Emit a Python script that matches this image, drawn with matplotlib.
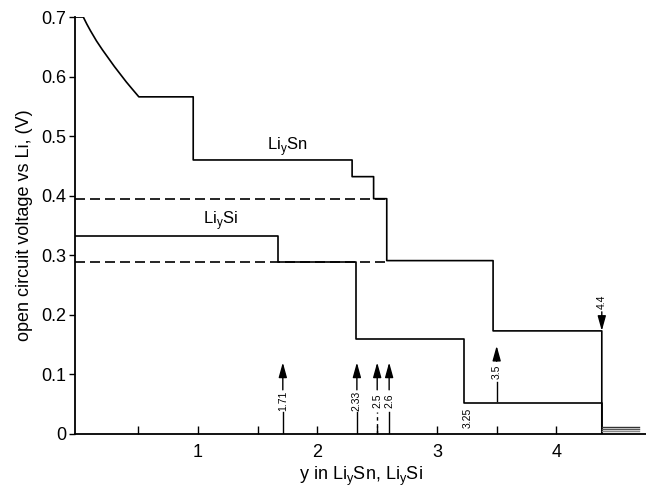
# open circuit voltage of Li-Sn and Li-Si vs lithium content

import numpy as np
import matplotlib.pyplot as plt

plt.rcParams['font.family'] = ['Liberation Sans', 'DejaVu Sans']

# Li_ySn: smooth start, then plateaus
sn_curve_x = [-0.03, 0.04, 0.07, 0.10, 0.15, 0.20, 0.25, 0.30, 0.35, 0.40, 0.45, 0.505]
sn_curve_v = [0.70, 0.700, 0.688, 0.677, 0.660, 0.645, 0.631, 0.617, 0.604, 0.591, 0.579, 0.566]
sn_edges = [0.505, 0.96, 2.29, 2.47, 2.58, 3.47, 4.38]
sn_levels = [0.566, 0.46, 0.432, 0.395, 0.291, 0.173]

# Li_ySi plateaus
si_edges = [-0.03, 1.67, 2.32, 3.23, 4.38]
si_levels = [0.333, 0.288, 0.16, 0.052]

# dashed reference levels
dash_levels = [0.395, 0.288]
dash_end = 2.58

# tail lines at bottom right
tail_levels = [0.011, 0.008, 0.0045]
tail_colors = ['#333333', '#555555', '#888888']
tail_x = [4.38, 4.69]

# composition markers (arrows from the axis)
up_x = [1.71, 2.33, 2.5, 2.6]
up_labels = ['1.71', '2.33', '2.5', '2.6']


def steps(edges, levels, end=None):
    xs, ys = [], []
    for i, v in enumerate(levels):
        xs += [edges[i], edges[i + 1]]
        ys += [v, v]
    if end is not None:
        xs.append(edges[-1])
        ys.append(end)
    return xs, ys


fig = plt.figure(figsize=(6.46, 4.87), dpi=100)
ax = fig.add_axes([0.116, 0.109, 0.884, 0.856])

lw = 1.2
for v in dash_levels:
    ax.plot([-0.03, dash_end], [v, v], color='black', lw=lw, linestyle=(0, (6, 3)))

sx, sy = steps(sn_edges, sn_levels, end=0)
ax.plot(sn_curve_x + sx, sn_curve_v + sy, color='black', lw=lw)
ix, iy = steps(si_edges, si_levels, end=0)
ax.plot(ix, iy, color='black', lw=lw)

for v, c in zip(tail_levels, tail_colors):
    ax.plot(tail_x, [v, v], color=c, lw=1.0)

ax.text(1.75, 0.482, 'Li$_\\mathregular{y}$Sn', fontsize=12, ha='center', va='center')
ax.text(1.19, 0.358, 'Li$_\\mathregular{y}$Si', fontsize=12, ha='center', va='center')

arrow = dict(arrowstyle='-|>,head_length=0.9,head_width=0.25', color='black',
             lw=1.0, mutation_scale=10, shrinkA=0, shrinkB=0)
small = 7.5
for x, lab in zip(up_x, up_labels):
    ls = (0, (2.5, 2.5)) if lab == '2.5' else '-'
    ax.plot([x, x], [0, 0.037], color='black', lw=1.0, linestyle=ls)
    ax.text(x, 0.055, lab, rotation=90, fontsize=small, ha='center', va='center')
    ax.annotate('', xy=(x, 0.12), xytext=(x, 0.074), arrowprops=arrow)

ax.text(3.255, 0.027, '3.25', rotation=90, fontsize=small, ha='center', va='center')

ax.plot([3.5, 3.5], [0.056, 0.088], color='black', lw=1.0)
ax.text(3.5, 0.105, '3.5', rotation=90, fontsize=small, ha='center', va='center')
ax.annotate('', xy=(3.5, 0.148), xytext=(3.5, 0.122), arrowprops=arrow)

ax.text(4.38, 0.221, '4.4', rotation=90, fontsize=small, ha='center', va='center')
ax.annotate('', xy=(4.38, 0.173), xytext=(4.38, 0.205), arrowprops=arrow)

ax.set_xlim(-0.03, 4.75)
ax.set_ylim(0, 0.7)
ax.spines['top'].set_visible(False)
ax.spines['right'].set_visible(False)
ax.spines['left'].set_linewidth(1.3)
ax.spines['bottom'].set_linewidth(1.3)

ax.set_xticks([1, 2, 3, 4])
ax.set_xticklabels(['1', '2', '3', '4'])
ax.set_xticks([0.5, 1.5, 2.5, 3.5], minor=True)
ax.tick_params(axis='x', which='both', direction='in', length=6, width=1.0,
               labelsize=13, pad=7)
ax.set_yticks([0, 0.1, 0.2, 0.3, 0.4, 0.5, 0.6, 0.7])
ax.set_yticklabels(['0', '0.1', '0.2', '0.3', '0.4', '0.5', '0.6', '0.7'])
ax.tick_params(axis='y', direction='out', length=4, width=1.0, labelsize=13, pad=2)

ax.set_xlabel('y in Li$_\\mathregular{y}$Sn, Li$_\\mathregular{y}$Si', fontsize=13, labelpad=3)
ax.set_ylabel('open circuit voltage vs Li, (V)', fontsize=13, labelpad=6)

fig.savefig('out.png', dpi=100)
